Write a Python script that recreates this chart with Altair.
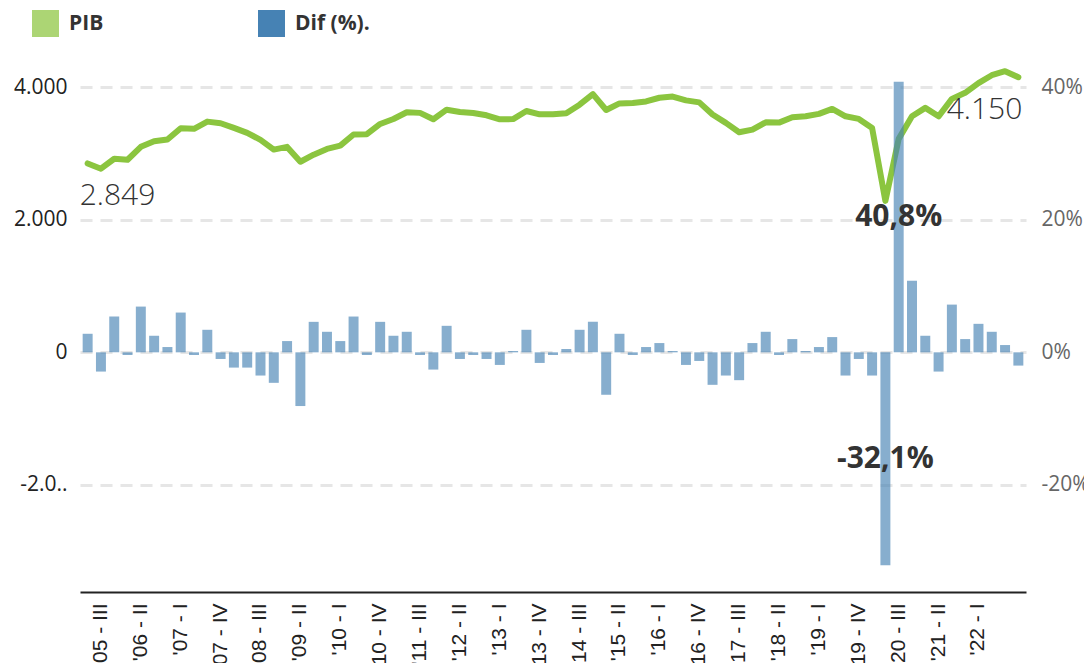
import altair as alt
import pandas as pd

roman = ["I", "II", "III", "IV"]
# 71 quarters, from 2005 Q2 to 2022 Q4
trimestres = [f"'{(2005 + (1 + i) // 4) % 100:02d} - {roman[(1 + i) % 4]}" for i in range(71)]

pib = [2849, 2770, 2920, 2905, 3100, 3184, 3209, 3380, 3372, 3480,
       3455, 3385, 3310, 3205, 3058, 3099, 2875, 2982, 3068, 3118,
       3285, 3290, 3445, 3520, 3622, 3612, 3515, 3660, 3625, 3610,
       3575, 3515, 3518, 3640, 3590, 3590, 3605, 3735, 3895, 3655,
       3755, 3760, 3785, 3840, 3858, 3800, 3770, 3587, 3461, 3319,
       3360, 3470, 3465, 3545, 3561, 3597, 3672, 3561, 3521, 3385,
       2285, 3220, 3560, 3687, 3560, 3823, 3914, 4060, 4180, 4241,
       4150]

dif = [2.8, -2.9, 5.4, -0.4, 6.9, 2.5, 0.8, 6.0, -0.4, 3.4,
       -1.0, -2.3, -2.3, -3.5, -4.6, 1.7, -8.1, 4.6, 3.1, 1.7,
       5.4, -0.4, 4.6, 2.5, 3.1, -0.4, -2.6, 4.0, -1.0, -0.4,
       -1.0, -1.9, 0.2, 3.4, -1.6, -0.4, 0.5, 3.4, 4.6, -6.4,
       2.8, -0.4, 0.8, 1.4, 0.2, -1.9, -1.3, -4.9, -3.5, -4.2,
       1.4, 3.1, -0.4, 2.0, 0.2, 0.8, 2.3, -3.5, -1.0, -3.5,
       -32.1, 40.8, 10.8, 2.5, -2.9, 7.2, 2.0, 4.3, 3.1, 1.1,
       -2.0]

series_names = ["PIB", "Dif (%)."]
series_colors = ["#acd574", "#4682b4"]
x_label_values = [trimestres[i] for i in range(1, 68, 3)]
left_ticks = [-2000, 0, 2000, 4000]
right_ticks = [-20, 0, 20, 40]

df = pd.DataFrame({
    "trimestre": trimestres,
    "pib": pib,
    "dif": dif,
    "idx": list(range(len(trimestres))),
    "serie": series_names[1],
})

base = alt.Chart(df)

x = alt.X(
    "trimestre:N",
    sort=trimestres,
    scale=alt.Scale(paddingInner=0.25, paddingOuter=0.2),
    axis=alt.Axis(
        values=x_label_values, labelAngle=270, labelFont="Liberation Sans",
        labelFontSize=21, labelColor="#222", labelPadding=11, labelOverlap=False,
        ticks=False, domainColor="#222", domainWidth=2, grid=False, title=None,
    ),
)

y_pib_scale = alt.Scale(domain=[-3615, 4500], nice=False, zero=False)
y_pib = alt.Y(
    "pib:Q", scale=y_pib_scale,
    axis=alt.Axis(
        values=left_ticks,
        labelExpr="datum.value == -2000 ? '-2.0..' : replace(format(datum.value, ','), ',', '.')",
        grid=True, gridDash=[12, 8], gridColor="#e6e6e6", gridWidth=3,
        ticks=False, domain=False, labelFont="Open Sans", labelFontSize=21,
        labelColor="#222", labelPadding=13, title=None,
    ),
)

line = base.mark_line(color="#8bc53f", strokeWidth=6, strokeJoin="round", strokeCap="round").encode(
    x=x, y=y_pib
)

lbl_expr = "replace(format(datum.pib, ','), ',', '.')"
first_txt = base.transform_filter("datum.idx == 0").transform_calculate(lbl=lbl_expr).mark_text(
    align="left", baseline="alphabetic", dx=-8, dy=42, font="Open Sans", fontWeight=300,
    fontSize=30, color="#333"
).encode(x=x, y=y_pib, text="lbl:N")

last_txt = base.transform_filter("datum.idx == 70").transform_calculate(lbl=lbl_expr).mark_text(
    align="right", baseline="alphabetic", dx=4, dy=42, font="Open Sans", fontWeight=300,
    fontSize=30, color="#333"
).encode(x=x, y=y_pib, text="lbl:N")

y_dif_scale = alt.Scale(domain=[-36.15, 45.0], nice=False)
y_dif_axis = alt.Axis(
    orient="right", values=right_ticks, labelExpr="datum.value + '%'",
    grid=False, ticks=False, domain=False, labelFont="Open Sans", labelFontSize=21,
    labelColor="#666", labelPadding=15, title=None,
)
y_dif = alt.Y("dif:Q", scale=y_dif_scale, axis=y_dif_axis)

bars = base.mark_bar(opacity=0.65).encode(
    x=x,
    y=y_dif,
    color=alt.Color(
        "serie:N",
        scale=alt.Scale(domain=series_names, range=series_colors),
        legend=alt.Legend(
            orient="none", legendX=-48, legendY=-44, direction="horizontal", title=None,
            symbolType="square", symbolSize=729, symbolOpacity=1, symbolStrokeWidth=0,
            labelFont="Open Sans", labelFontSize=21, labelFontWeight="bold",
            labelColor="#333", labelOffset=10, columnPadding=154, padding=0,
        ),
    ),
)

bar_txt = base.transform_filter("abs(datum.dif) > 30").transform_calculate(
    mid="datum.dif / 2",
    lbl="(datum.dif < 0 ? '-' : '') + replace(format(abs(datum.dif), '.1f'), '.', ',') + '%'",
).mark_text(
    align="center", baseline="middle", font="Open Sans", fontWeight="bold",
    fontSize=30, color="#333"
).encode(x=x, y=alt.Y("mid:Q", scale=y_dif_scale, axis=y_dif_axis), text="lbl:N")

pib_layer = alt.layer(line, first_txt, last_txt)
dif_layer = alt.layer(bars, bar_txt)

chart = alt.layer(pib_layer, dif_layer).resolve_scale(y="independent").properties(
    width=946,
    height=538,
    padding={"left": 72, "top": 46, "right": 58, "bottom": 71},
    autosize=alt.AutoSizeParams(type="none"),
    background="white",
).configure_view(stroke=None)

chart.save("out.html", embed_options={"renderer": "svg", "actions": False})
